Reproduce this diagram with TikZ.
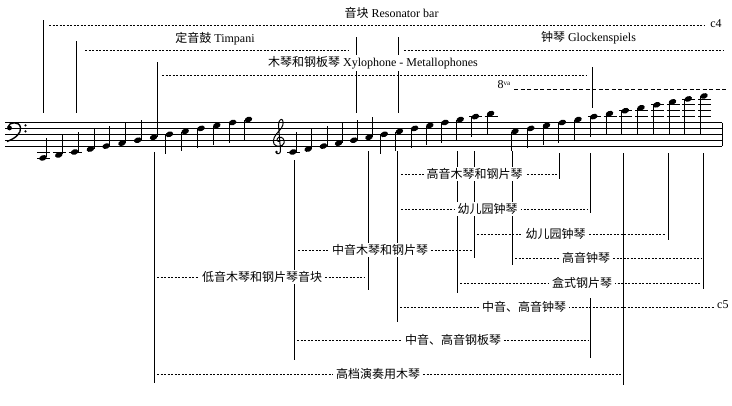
\documentclass[tikz,border=0pt]{standalone}
\usepackage{fontspec}
\setmainfont{Liberation Serif}
\newfontfamily\cjk{Noto Sans CJK SC}
\tikzset{
  notestem/.style={line width=0.8pt},
  ledgerline/.style={line width=0.8pt},
  vline/.style={line width=0.9pt},
  rng/.style={line width=0.8pt, dash pattern=on 2pt off 1.5pt},
  octline/.style={line width=0.8pt, dash pattern=on 4pt off 2.5pt},
  lbl/.style={fill=white, inner xsep=3pt, inner ysep=1.5pt, font=\fontsize{12}{14}\selectfont\cjk},
  toplbl/.style={fill=white, inner xsep=2pt, inner ysep=1.5pt, font=\fontsize{12}{14}\selectfont},
}
\newcommand{\mynote}[2]{%
  \pgfmathsetmacro{\nY}{146.1-(#2)*2.95}%
  \fill[rotate around={20:(#1,\nY)}] (#1,\nY) ellipse (3.9pt and 2.7pt);
  \ifdim #2pt<4pt
    \draw[notestem] (#1+3.6,\nY-0.5) -- (#1+3.6,\nY-20);
  \else
    \pgfmathsetmacro{\sE}{max(\nY+20,134.3)}%
    \draw[notestem] (#1-3.6,\nY+0.5) -- (#1-3.6,\sE);
  \fi
  \ifdim #2pt<-1pt \draw[ledgerline] (#1-6,152) -- (#1+7,152); \fi
  \ifdim #2pt<-3pt \draw[ledgerline] (#1-6,157.9) -- (#1+7,157.9); \fi
  \foreach \k in {10,12,14,16}{%
    \ifdim #2pt<\k pt\else
      \pgfmathsetmacro{\lY}{146.1-\k*2.95}%
      \draw[ledgerline] (#1-6,\lY) -- (#1+7,\lY);
    \fi}%
}
\begin{document}
\begin{tikzpicture}[x=1pt,y=-1pt]
\useasboundingbox (0,0) rectangle (732,405);
\fill[white] (0,0) rectangle (732,405);

% staff
\foreach \j in {0,...,4}{\draw[line width=0.9pt] (5,122.5+\j*5.9) -- (722,122.5+\j*5.9);}
\draw[line width=0.9pt] (722,122.5) -- (722,146.1);

% bass clef
\fill (9.5,128) circle (2.4pt);
\draw[line width=1.4pt] (8,127) .. controls (9,121.5) and (19.5,121) .. (20.5,127.5) .. controls (21.5,133.5) and (15,138.5) .. (7,141.5);
\fill (25.5,125.4) circle (1.2pt);
\fill (25.5,131.3) circle (1.2pt);

% treble clef
\draw[line width=1pt] (280,141.5) .. controls (277,142) and (276,139) .. (278.5,137.5)
  .. controls (282,136) and (285,139.5) .. (284,143)
  .. controls (283,147) and (276,147.5) .. (274,144)
  .. controls (272,140) and (275,135) .. (279,131)
  .. controls (283,127) and (284,123) .. (282.5,120)
  .. controls (281,118) and (278.5,121) .. (278.5,125)
  -- (280.5,150)
  .. controls (281,154) and (277,155) .. (276,152.5);
\fill (276.5,152) circle (1.4pt);

% notes
\foreach \i in {0,...,13}{\pgfmathsetmacro\nX{43+\i*15.8}\pgfmathsetmacro\nS{\i-4}\mynote{\nX}{\nS}}
\foreach \i in {0,...,13}{\pgfmathsetmacro\nX{293+\i*15.2}\pgfmathsetmacro\nS{\i-2}\mynote{\nX}{\nS}}
\foreach \i in {0,...,12}{\pgfmathsetmacro\nX{515+\i*15.75}\pgfmathsetmacro\nS{\i+5}\mynote{\nX}{\nS}}

% top verticals
\draw[vline] (43,20) -- (43,113);
\draw[vline] (76,41) -- (76,113);
\draw[vline] (157,62) -- (157,118);
\draw[vline] (356,37) -- (356,113);
\draw[vline] (398,37) -- (398,113);
\draw[vline] (592,67) -- (592,108);

% top ranges
\draw[rng] (49,25) -- (705,25);
\draw[rng] (85,50) -- (349,50);
\draw[rng] (404,50) -- (723,50);
\draw[rng] (162,75) -- (587,75);
\draw[octline] (514,89) -- (728,89);

% bottom verticals
\draw[vline] (154,152) -- (154,383);
\draw[vline] (294,160) -- (294,360);
\draw[vline] (368,151) -- (368,290);
\draw[vline] (397,151) -- (397,322);
\draw[vline] (457,151) -- (457,293);
\draw[vline] (474,151) -- (474,258);
\draw[vline] (512,151) -- (512,265);
\draw[vline] (559,153) -- (559,179);
\draw[vline] (590,153) -- (590,213);
\draw[vline] (590,298) -- (590,358);
\draw[vline] (623,153) -- (623,385);
\draw[vline] (668,153) -- (668,240);
\draw[vline] (703,153) -- (703,289);

% bottom ranges
\draw[rng] (401,174) -- (557,174);
\draw[rng] (401,209) -- (588,209);
\draw[rng] (477,234) -- (666,234);
\draw[rng] (298,250) -- (472,250);
\draw[rng] (515,258) -- (701,258);
\draw[rng] (157,277) -- (365,277);
\draw[rng] (460,283) -- (701,283);
\draw[rng] (400,307) -- (715,307);
\draw[rng] (297,340) -- (588,340);
\draw[rng] (157,374) -- (621,374);

% top labels
\node[toplbl] (resbar) at (391.5,13) {{\cjk 音块} Resonator bar};
\node[toplbl] (timp) at (215,39) {{\cjk 定音鼓} Timpani};
\node[toplbl] (glock) at (588.5,38) {{\cjk 钟琴} Glockenspiels};
\node[toplbl] (xylo) at (373,63) {{\cjk 木琴和钢板琴} Xylophone - Metallophones};
\node[font=\fontsize{12}{14}\selectfont, inner sep=0pt] (cfour) at (716,24) {c4};
\node[font=\fontsize{12}{14}\selectfont, inner sep=0pt, anchor=west] (cfive) at (717,305) {c5};
\node[inner sep=0pt] (octava) at (504,85) {\fontsize{12}{13}\selectfont 8\raisebox{3pt}{\fontsize{7}{8}\selectfont va}};

% bottom labels
\node[lbl] (r1) at (474.5,174) {高音木琴和钢片琴};
\node[lbl] (r2) at (487.5,209) {幼儿园钟琴};
\node[lbl] (r3) at (555.5,234) {幼儿园钟琴};
\node[lbl] (r4) at (380,250) {中音木琴和钢片琴};
\node[lbl] (r5) at (586,258) {高音钟琴};
\node[lbl] (r6) at (262,277) {低音木琴和钢片琴音块};
\node[lbl] (r7) at (582,283) {盒式钢片琴};
\node[lbl] (r8) at (524,307) {中音、高音钟琴};
\node[lbl] (r9) at (453,340) {中音、高音钢板琴};
\node[lbl] (r10) at (378,374) {高档演奏用木琴};
\end{tikzpicture}
\end{document}
